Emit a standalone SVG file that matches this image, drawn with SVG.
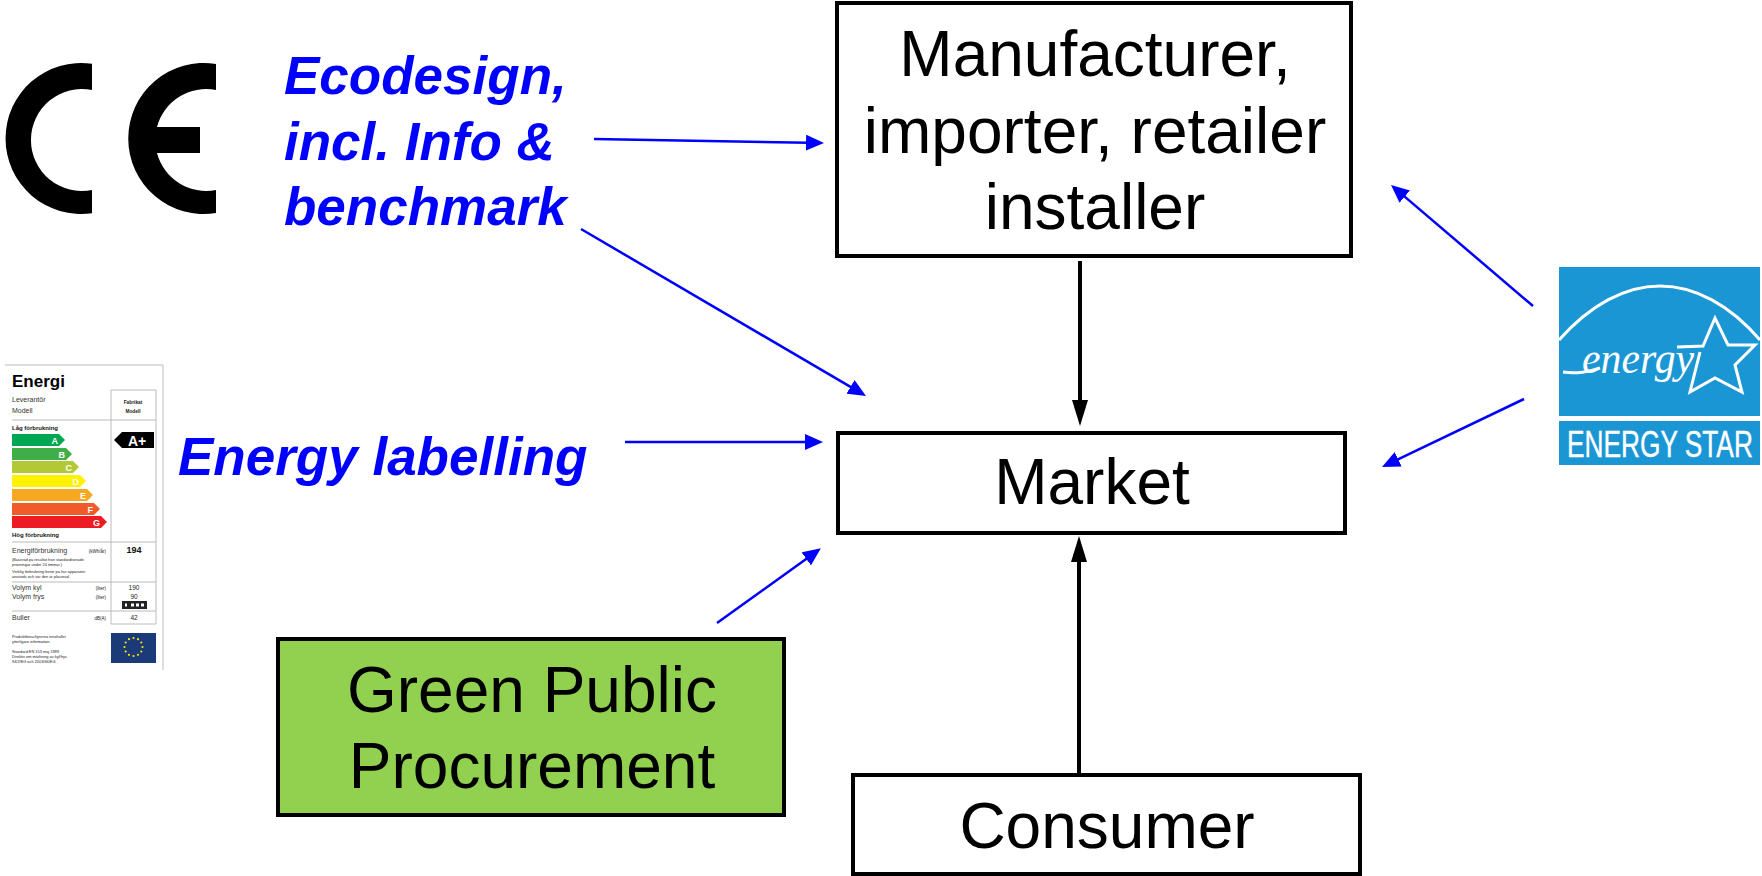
<svg xmlns="http://www.w3.org/2000/svg" width="1762" height="876" viewBox="0 0 1762 876">
<style>
text{font-family:"Liberation Sans",Arial,sans-serif}
.box{fill:#fff;stroke:#000;stroke-width:4}
.t{font-size:64px;fill:#000;text-anchor:middle}
.b{font-size:53px;font-weight:bold;font-style:italic;fill:#00f}
.blue{stroke:#00f;stroke-width:2.5;fill:none;marker-end:url(#ab)}
.black{stroke:#000;stroke-width:4;fill:none;marker-end:url(#ak)}
.s{font-size:7px;fill:#333}
.xs{font-size:3.9px;fill:#222}
.lb{font-size:9px;font-weight:bold;fill:#fff;text-anchor:end}
.ln{stroke:#bbb;stroke-width:1;fill:none}
.w{stroke:#fff;stroke-width:3;fill:none}
</style>
<defs>
<marker id="ab" viewBox="0 0 18 16" refX="2" refY="8" markerWidth="18" markerHeight="16" markerUnits="userSpaceOnUse" orient="auto"><path d="M0 0L18 8L0 16z" fill="#00f"/></marker>
<marker id="ak" viewBox="0 0 26 16" refX="2" refY="8" markerWidth="26" markerHeight="16" markerUnits="userSpaceOnUse" orient="auto"><path d="M0 0L26 8L0 16z" fill="#000"/></marker>
</defs>
<rect width="1762" height="876" fill="#fff"/>
<g id="ce-mark" fill="#000">
<path d="M92 63.800A75.500 75.500 0 1 0 92 213.200V190A51 51 0 1 1 92 90Z"/>
<path d="M216 64A75.500 75.500 0 1 0 216 213V190A51 51 0 0 1 157 153H200V127H157A51 51 0 0 1 216 90Z"/>
</g>
<g id="node-manufacturer">
<rect class="box" x="837" y="3" width="514" height="253"/>
<text class="t" x="1095" y="76">Manufacturer,</text>
<text class="t" x="1095" y="153">importer, retailer</text>
<text class="t" x="1095" y="229">installer</text>
</g>
<g id="node-market">
<rect class="box" x="838" y="433" width="507" height="100"/>
<text class="t" x="1092" y="504">Market</text>
</g>
<g id="node-consumer">
<rect class="box" x="853" y="775" width="507" height="99"/>
<text class="t" x="1107" y="848">Consumer</text>
</g>
<g id="node-gpp">
<rect x="278" y="639" width="506" height="176" fill="#92d050" stroke="#000" stroke-width="4"/>
<text class="t" x="532" y="712">Green Public</text>
<text class="t" x="532" y="788">Procurement</text>
</g>
<g id="node-ecodesign">
<text class="b" x="284" y="94">Ecodesign,</text>
<text class="b" x="284" y="160">incl. Info &amp;</text>
<text class="b" x="284" y="225">benchmark</text>
</g>
<g id="node-energy-labelling">
<text class="b" x="178" y="475">Energy labelling</text>
</g>
<g id="connectors">
<path class="black" d="M1080 261V402"/>
<path class="black" d="M1079 773V560"/>
<path class="blue" d="M594 139L808 142.700"/>
<path class="blue" d="M581 229L852.200 387.900"/>
<path class="blue" d="M625 442H807"/>
<path class="blue" d="M717 623L807.900 557.700"/>
<path class="blue" d="M1533 306L1403.200 195.400"/>
<path class="blue" d="M1524 399L1396.400 460.100"/>
</g>
<g id="energy-label">
<path class="ln" d="M5 365H163V670"/>
<path class="ln" d="M111 390H156V624H111ZM12 420H156M12 542H156M12 582H156M12 611H156"/>
<text x="12" y="387" font-size="17" font-weight="bold" fill="#000">Energi</text>
<text class="s" x="12" y="402">Leverantör</text>
<text class="s" x="12" y="413">Modell</text>
<text x="133" y="404" font-size="4.800" font-weight="bold" text-anchor="middle" fill="#222">Fabrikat</text>
<text x="133" y="413" font-size="4.800" font-weight="bold" text-anchor="middle" fill="#222">Modell</text>
<text x="12" y="430" font-size="6" font-weight="bold" fill="#111">Låg förbrukning</text>
<path d="M12 434H59L65 440L59 446H12Z" fill="#00a651"/>
<path d="M12 448H66L72 454L66 460H12Z" fill="#3fae49"/>
<path d="M12 461H73L79 467L73 473H12Z" fill="#b2c935"/>
<path d="M12 475H80L86 481L80 487H12Z" fill="#fff200"/>
<path d="M12 489H87L93 495L87 501H12Z" fill="#f7a823"/>
<path d="M12 503H94L100 509L94 515H12Z" fill="#f15a29"/>
<path d="M12 516H101L107 522L101 528H12Z" fill="#ed1c24"/>
<text class="lb" x="58" y="443.500">A</text>
<text class="lb" x="65" y="457.500">B</text>
<text class="lb" x="72" y="470.500">C</text>
<text class="lb" x="79" y="484.500">D</text>
<text class="lb" x="86" y="498.500">E</text>
<text class="lb" x="93" y="512.500">F</text>
<text class="lb" x="100" y="525.500">G</text>
<text x="12" y="537" font-size="6" font-weight="bold" fill="#111">Hög förbrukning</text>
<path d="M114 440L122 432H154V448H122Z" fill="#000"/>
<text x="128" y="445.500" font-size="14" font-weight="bold" fill="#fff">A+</text>
<text class="s" x="12" y="553">Energiförbrukning</text>
<text x="106" y="553" font-size="4.500" text-anchor="end" fill="#222">(kWh/år)</text>
<text x="134" y="553" font-size="9" font-weight="bold" text-anchor="middle" fill="#111">194</text>
<text class="xs" x="12" y="561">(Baserad på resultat från standardiserade</text>
<text class="xs" x="12" y="566">provningar under 24 timmar.)</text>
<text class="xs" x="12" y="573">Verklig förbrukning beror på hur apparaten</text>
<text class="xs" x="12" y="578">används och var den är placerad.</text>
<text class="s" x="12" y="590">Volym kyl</text>
<text x="106" y="590" font-size="4.500" text-anchor="end" fill="#222">(liter)</text>
<text x="134" y="590" font-size="6.500" text-anchor="middle" fill="#222">190</text>
<text class="s" x="12" y="599">Volym frys</text>
<text x="106" y="599" font-size="4.500" text-anchor="end" fill="#222">(liter)</text>
<text x="134" y="599" font-size="6.500" text-anchor="middle" fill="#222">90</text>
<path d="M122 601H147V609H122Z" fill="#222"/>
<path d="M125 605H127M131 605H134M136 605H139M141 605H144" stroke="#fff" stroke-width="3"/>
<text class="s" x="12" y="620">Buller</text>
<text x="106" y="620" font-size="4.500" text-anchor="end" fill="#222">dB(A)</text>
<text x="134" y="620" font-size="6.500" text-anchor="middle" fill="#222">42</text>
<text class="xs" x="12" y="638">Produktbroschyrerna innehåller</text>
<text class="xs" x="12" y="643">ytterligare information.</text>
<text class="xs" x="12" y="653">Standard EN 153 maj 1999</text>
<text class="xs" x="12" y="658">Direktiv om märkning av kyl/frys</text>
<text class="xs" x="12" y="663">94/2/EG och 2003/66/EG.</text>
<rect x="111" y="633" width="45" height="30" fill="#1b3a78"/>
<g fill="#ffe600">
<circle cx="133.500" cy="638" r="1.100"/><circle cx="138" cy="639.200" r="1.100"/><circle cx="141.300" cy="642.500" r="1.100"/>
<circle cx="142.500" cy="647" r="1.100"/><circle cx="141.300" cy="651.500" r="1.100"/><circle cx="138" cy="654.800" r="1.100"/>
<circle cx="133.500" cy="656" r="1.100"/><circle cx="129" cy="654.800" r="1.100"/><circle cx="125.700" cy="651.500" r="1.100"/>
<circle cx="124.500" cy="647" r="1.100"/><circle cx="125.700" cy="642.500" r="1.100"/><circle cx="129" cy="639.200" r="1.100"/>
</g>
</g>
<g id="energy-star">
<rect x="1559" y="267" width="201" height="149" fill="#1b96d4"/>
<rect x="1559" y="421" width="201" height="44" fill="#1b96d4"/>
<path class="w" d="M1559 340C1590 305 1625 286 1660 286C1695 286 1730 305 1760 340"/>
<path class="w" d="M1677 347L1703 346L1715 318L1728 345L1755 345L1735 365L1742 392L1715 378L1690 392L1700 352"/>
<path class="w" stroke-width="2" d="M1563 372C1575 374 1590 372 1600 368"/>
<text transform="translate(1582 373) scale(.95 1)" font-size="44" font-style="italic" fill="#fff" style="font-family:'Liberation Serif',serif">energy</text>
<text transform="translate(1567 457) scale(.73 1)" font-size="36" fill="#fff" stroke="#fff" stroke-width=".4">ENERGY STAR</text>
</g>
</svg>
